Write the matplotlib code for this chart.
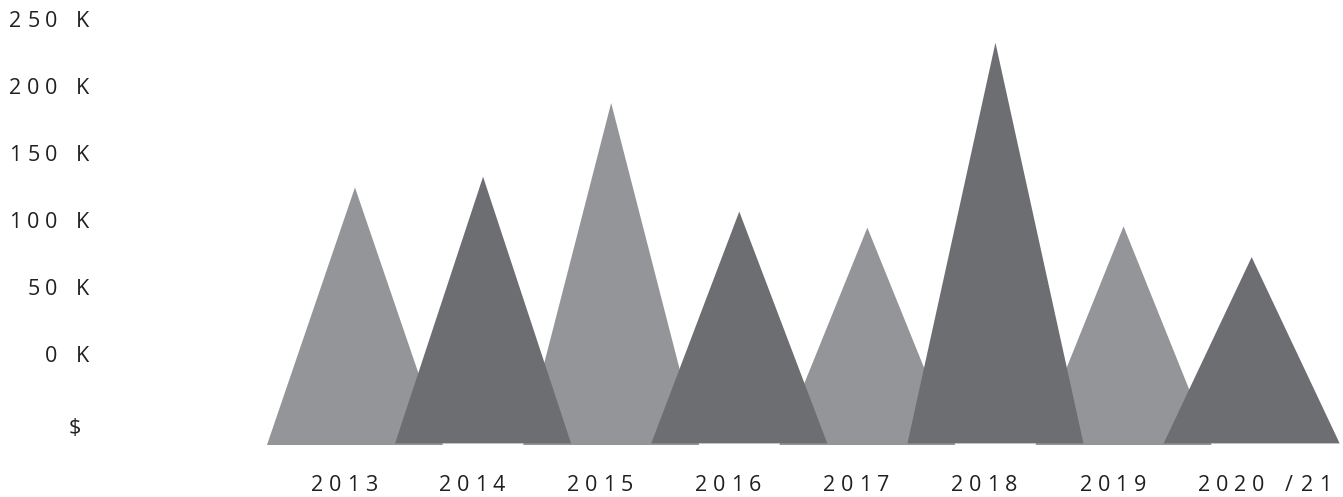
import numpy as np
import matplotlib
matplotlib.use("Agg")
import matplotlib.pyplot as plt
from matplotlib import transforms

# data (thousands of $)
years = ["2013", "2014", "2015", "2016", "2017", "2018", "2019", "2020 /21"]
values = [125, 133, 188, 107, 95, 233, 96, 73]
ytick_vals = [250, 200, 150, 100, 50, 0]
ytick_labels = ["250 K", "200 K", "150 K", "100 K", "50 K", "0 K"]
unit_label = "$"

LIGHT = "#939598"
DARK = "#6d6e71"
INK = "#231f20"
FONT = "Open Sans"

DPI = 100
W, H = 1343, 497
fig = plt.figure(figsize=(W / DPI, H / DPI), dpi=DPI)
ax = fig.add_axes([0, 0, 1, 1])
ax.set_xlim(-2.771, 7.713)
ax.set_ylim(-106.0, 264.9)
ax.axis("off")

halfw = 0.687      # half base width in category units
base = -66.0       # triangles sit a bit below the 0 K mark

txt = dict(fontsize=15.5, color=INK, family=[FONT, "DejaVu Sans"])


def spaced(x, y, s, trans, align="left", dx=0.0, dy=0.0, pitch=18.0, space=13.5):
    """draw letter-spaced text one char at a time (offsets in pixels)"""
    widths = [space if c == " " else pitch for c in s]
    total = sum(widths)
    pos = dx + {"left": 0.0, "right": -total, "center": -total / 2}[align]
    for c, w in zip(s, widths):
        if c != " ":
            t = transforms.offset_copy(trans, fig=fig, x=pos + w / 2, y=dy, units="dots")
            ax.text(x, y, c, transform=t, ha="center", va="baseline", **txt)
        pos += w


xs = np.arange(len(values))
# light ones first, dark ones overlap on top
for i in list(xs[::2]) + list(xs[1::2]):
    col = LIGHT if i % 2 == 0 else DARK
    b = base - (1.2 if i % 2 == 0 else 0)
    ax.fill([xs[i] - halfw, xs[i], xs[i] + halfw], [b, values[i], b],
            color=col, lw=0, zorder=2 + i % 2)

# y labels, right aligned near the left edge
ytrans = transforms.blended_transform_factory(ax.transAxes, ax.transData)
for v, lab in zip(ytick_vals, ytick_labels):
    spaced(92 / W, v, lab, ytrans, align="right", dy=-7)
spaced(84 / W, -54, unit_label, ytrans, align="right", dy=-7)

# x labels, letter spaced, starting a little left of each peak
xtrans = transforms.blended_transform_factory(ax.transData, ax.transAxes)
for i, yr in enumerate(years):
    spaced(xs[i], 6.0 / H, yr, xtrans, align="left", dx=-47 if i < 7 else -57)

fig.savefig("out.png", dpi=DPI, facecolor="white")
